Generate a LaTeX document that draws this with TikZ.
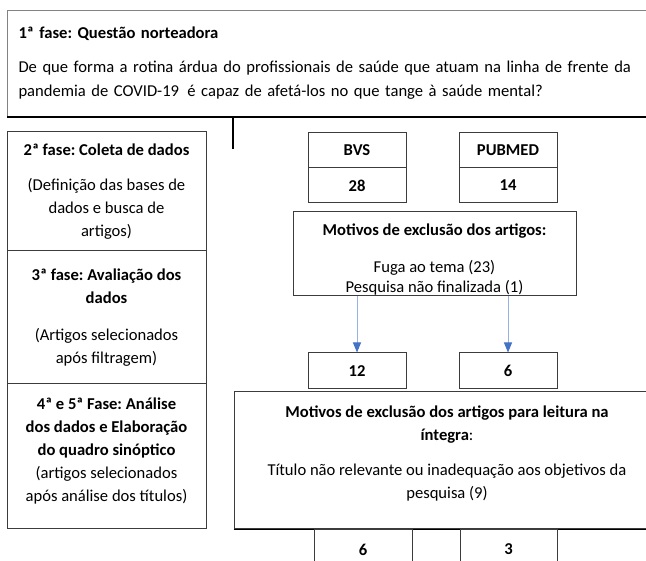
\documentclass[tikz,border=0pt]{standalone}
\usepackage{fontspec}
\setmainfont{Carlito}
\usetikzlibrary{positioning,arrows.meta,calc}
\definecolor{linhacinza}{RGB}{60,60,60}
\definecolor{bordaclara}{RGB}{130,130,130}
\definecolor{setaazul}{RGB}{68,114,196}
\definecolor{hasteazul}{RGB}{150,178,226}
\frenchspacing

\begin{document}
\begin{tikzpicture}[x=1pt,y=-1pt,font=\fontsize{16.6}{23}\selectfont\frenchspacing,
    caixa/.style={draw=linhacinza,line width=1pt,rectangle,inner sep=0pt,align=center},
    celula/.style={caixa,minimum width=98pt,minimum height=35pt},
    seta/.style={draw=hasteazul,line width=1pt,-{Triangle[width=8pt,length=10pt,color=setaazul]}}]
    \useasboundingbox (0,0) rectangle (646,561);
    \clip (0,0) rectangle (646,561);

    % Questao norteadora
    \node[caixa,draw=bordaclara,anchor=north west,align=left,text width=631pt,
          inner xsep=11pt,minimum height=106pt] (topo) at (7,10) {
        \textbf{1ª fase: Questão norteadora}\\[11pt]
        De que forma a rotina árdua do profissionais de saúde que atuam na linha de frente da\\[1pt]
        pandemia de COVID-19\, é capaz de afetá-los no que tange à saúde mental?\\[5pt]
    };
    \draw[line width=1.5pt] (topo.south west) -- (topo.south east);
    \coordinate (risco) at (233,149);
    \draw[line width=1.2pt] (topo.south -| risco) -- (risco);

    % Fases (coluna da esquerda)
    \node[caixa,minimum width=199pt,minimum height=119pt] (fase2) at (106.5,191.5) {
        \textbf{2ª fase: Coleta de dados}\\[12pt]
        (Definição das bases de\\ dados e busca de\\ artigos)
    };
    \node[caixa,minimum width=199pt,minimum height=133pt] (fase3) at (106.5,317.5) {
        \textbf{3ª fase: Avaliação dos}\\ \textbf{dados}\\[14pt]
        (Artigos selecionados\\ após filtragem)
    };
    \node[caixa,minimum width=199pt,minimum height=145pt] (fase4) at (106.5,456.5) {
        \textbf{4ª e 5ª Fase: Análise}\\ \textbf{dos dados e Elaboração}\\
        \textbf{do quadro sinóptico}\\ (artigos selecionados\\ após análise dos títulos)\\[-10pt]
    };

    % Bases de dados
    \node[celula] (bvs) at (357,150.5) {\textbf{BVS}};
    \node[celula] (n28) at (357,185.5) {\textbf{28}};
    \node[celula] (pubmed) at (508,150.5) {\textbf{PUBMED}};
    \node[celula] (n14) at (508,185.5) {\textbf{14}};

    % Exclusao
    \node[caixa,minimum width=283pt,minimum height=84pt] (motivos) at (434.5,254) {
        \rule{0pt}{22pt}\textbf{Motivos de exclusão dos artigos:}\\[14pt]
        Fuga ao tema (23)\\[-3pt] Pesquisa não finalizada (1)
    };

    % Selecionados
    \node[celula,minimum height=36pt] (n12) at (357,371) {\textbf{12}};
    \node[celula,minimum height=36pt] (n6) at (508,371) {\textbf{6}};
    \draw[seta] (motivos.south -| n12.north) -- (n12.north);
    \draw[seta] (motivos.south -| n6.north) -- (n6.north);

    % Leitura na integra
    \node[caixa,minimum width=426pt,minimum height=137pt] (integra) at (447,460.5) {
        \textbf{Motivos de exclusão dos artigos para leitura na}\\ \textbf{íntegra}:\\[12pt]
        Título não relevante ou inadequação aos objetivos da\\ pesquisa (9)\\[-7pt]
    };
    \draw[line width=1.5pt] (integra.south west) -- (integra.south east);

    % Resultado final
    \node[celula,anchor=north,minimum height=40pt] (b6) at (363,529) {\textbf{6}};
    \node[celula,anchor=north,minimum width=97pt,minimum height=40pt] (b3) at (508.5,529) {\textbf{3}};
\end{tikzpicture}
\end{document}
